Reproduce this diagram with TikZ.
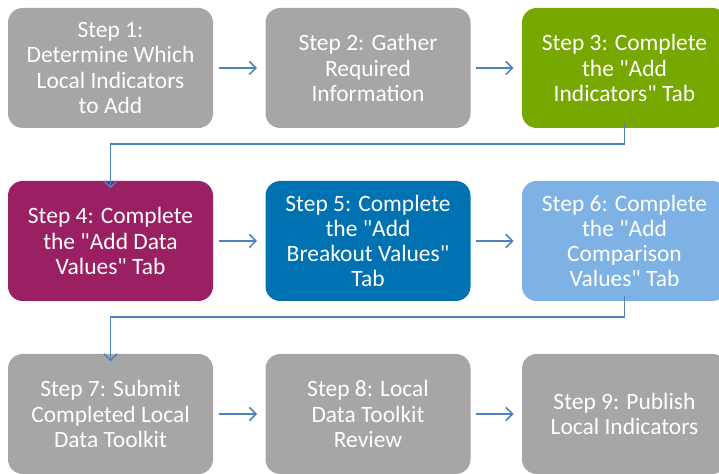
\documentclass[tikz,border=0pt]{standalone}
\usepackage{fontspec}
\setmainfont{Carlito}[Ligatures=TeXOff]
\usetikzlibrary{arrows.meta}

\definecolor{boxgrey}{RGB}{166,166,166}
\definecolor{boxgreen}{RGB}{118,168,0}
\definecolor{boxpurple}{RGB}{154,31,99}
\definecolor{boxblue}{RGB}{0,114,178}
\definecolor{boxlight}{RGB}{127,178,228}
\definecolor{flowline}{RGB}{79,129,189}

\tikzset{every picture/.style={line width=0.75pt}}
\tikzset{
  stepbox/.style={rounded corners=11pt, minimum width=153.75pt, minimum height=90pt,
    inner sep=0pt, align=center, text=white, font=\fontsize{17.6}{18.9}\selectfont},
  flow/.style={draw=flowline, line width=1.1pt, -{Straight Barb[length=5pt,width=10pt]}}
}

\begin{document}
\begin{tikzpicture}[x=0.75pt,y=0.75pt,yscale=-1,xscale=1]
\useasboundingbox (0,0) rectangle (719,474);
%Row 1
\node [stepbox, fill=boxgrey] (s1) at (110.5,68) {Step 1:\\Determine Which\\Local Indicators\\to Add};
\node [stepbox, fill=boxgrey] (s2) at (368,68) {Step 2: Gather\\Required\\Information};
\node [stepbox, fill=boxgreen] (s3) at (624.5,68) {Step 3: Complete\\the "Add\\Indicators" Tab};
%Row 2
\node [stepbox, fill=boxpurple] (s4) at (110.5,241) {Step 4: Complete\\the "Add Data\\Values" Tab};
\node [stepbox, fill=boxblue] (s5) at (368,241) {Step 5: Complete\\the "Add\\Breakout Values"\\Tab};
\node [stepbox, fill=boxlight] (s6) at (624.5,241) {Step 6: Complete\\the "Add\\Comparison\\Values" Tab};
%Row 3
\node [stepbox, fill=boxgrey] (s7) at (110.5,414) {Step 7: Submit\\Completed Local\\Data Toolkit};
\node [stepbox, fill=boxgrey] (s8) at (368,414) {Step 8: Local\\Data Toolkit\\Review};
\node [stepbox, fill=boxgrey] (s9) at (624.5,414) {Step 9: Publish\\Local Indicators};

%Arrows along each row
\draw [flow] ([xshift=3.75pt]s1.east) -- ([xshift=-6pt]s2.west);
\draw [flow] ([xshift=3.75pt]s2.east) -- ([xshift=-6pt]s3.west);
\draw [flow] ([xshift=3.75pt]s4.east) -- ([xshift=-6pt]s5.west);
\draw [flow] ([xshift=3.75pt]s5.east) -- ([xshift=-6pt]s6.west);
\draw [flow] ([xshift=3.75pt]s7.east) -- ([xshift=-6pt]s8.west);
\draw [flow] ([xshift=3.75pt]s8.east) -- ([xshift=-6pt]s9.west);
%Elbow arrows between rows
\draw [flow] ([yshift=-3.75pt]s3.south) -- ++(0,20.5) -| ([yshift=6pt]s4.north);
\draw [flow] ([yshift=-3.75pt]s6.south) -- ++(0,20.5) -| ([yshift=6pt]s7.north);

\end{tikzpicture}
\end{document}
